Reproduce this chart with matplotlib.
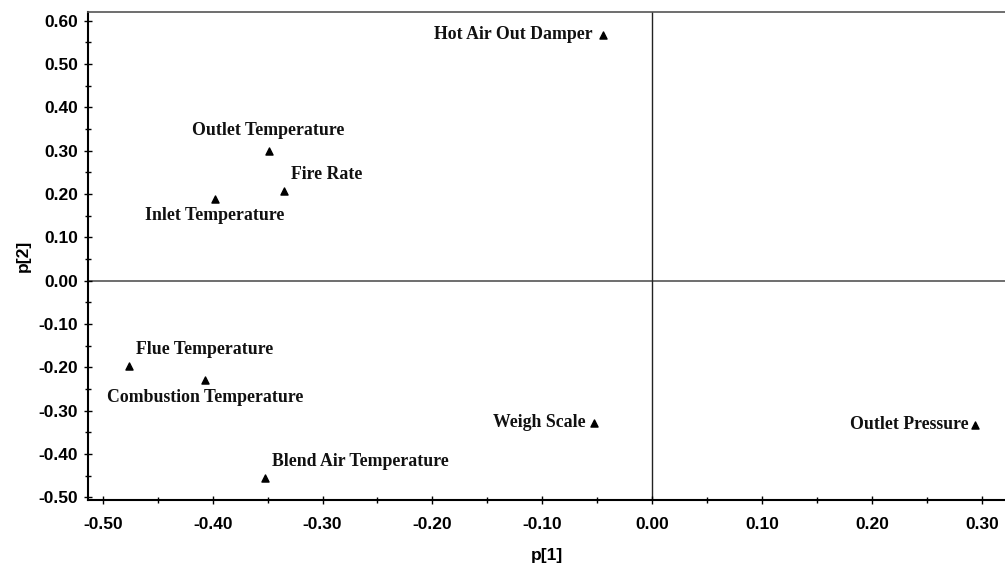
import matplotlib.pyplot as plt
from matplotlib.ticker import MultipleLocator, FormatStrFormatter

names = ['Hot Air Out Damper', 'Outlet Temperature', 'Fire Rate', 'Inlet Temperature',
         'Flue Temperature', 'Combustion Temperature', 'Blend Air Temperature',
         'Weigh Scale', 'Outlet Pressure']
p1 = [-0.045, -0.349, -0.335, -0.398, -0.476, -0.407, -0.352, -0.053, 0.294]
p2 = [0.567, 0.300, 0.207, 0.189, -0.197, -0.230, -0.455, -0.328, -0.332]

# label offsets in pixels (dx, dy) and alignment
offsets = [(-10, 0, 'right', 'center'),
           (0, 12, 'center', 'bottom'),
           (7, 8, 'left', 'bottom'),
           (0, -8, 'center', 'top'),
           (7, 8, 'left', 'bottom'),
           (0, -9, 'center', 'top'),
           (7, 8, 'left', 'bottom'),
           (-8, 0, 'right', 'center'),
           (-7, 0, 'right', 'center')]

fig = plt.figure(figsize=(10.05, 5.69), dpi=100)
ax = fig.add_axes([88 / 1005, 69 / 569, 917 / 1005, 488 / 569])

ax.axhline(0, color='#555555', lw=1.2, zorder=1)
ax.axvline(0, color='#222222', lw=1.0, zorder=1)
ax.scatter(p1, p2, marker='^', s=26, color='black', zorder=3)

for name, x, y, (dx, dy, ha, va) in zip(names, p1, p2, offsets):
    ax.annotate(name, (x, y), xytext=(dx, dy), textcoords='offset pixels',
                ha=ha, va=va, fontsize=12.8, fontweight='bold',
                family='Liberation Serif', color='#111111')

ax.set_xlim(-0.5134, 0.321)
ax.set_ylim(-0.506, 0.62)
ax.xaxis.set_major_locator(MultipleLocator(0.1))
ax.xaxis.set_minor_locator(MultipleLocator(0.05))
ax.yaxis.set_major_locator(MultipleLocator(0.1))
ax.yaxis.set_minor_locator(MultipleLocator(0.05))
ax.xaxis.set_major_formatter(FormatStrFormatter('%.2f'))
ax.yaxis.set_major_formatter(FormatStrFormatter('%.2f'))
ax.tick_params(which='both', direction='inout', length=6, width=1,
               labelsize=12.5)
ax.tick_params(axis='x', pad=9)
ax.tick_params(axis='y', pad=4)
ax.tick_params(which='minor', length=5)
for lab in ax.get_xticklabels() + ax.get_yticklabels():
    lab.set_fontweight('bold')
    lab.set_family('Liberation Sans')

ax.spines['right'].set_visible(False)
ax.spines['top'].set_color('#555555')
ax.spines['top'].set_linewidth(1.2)
ax.spines['left'].set_linewidth(1.5)
ax.spines['bottom'].set_linewidth(1.5)

ax.set_xlabel('p[1]', fontweight='bold', family='Liberation Sans', fontsize=12.5, labelpad=12)
ax.set_ylabel('p[2]', fontweight='bold', family='Liberation Sans', fontsize=12.5, labelpad=6)

fig.savefig('out.png', dpi=100)
